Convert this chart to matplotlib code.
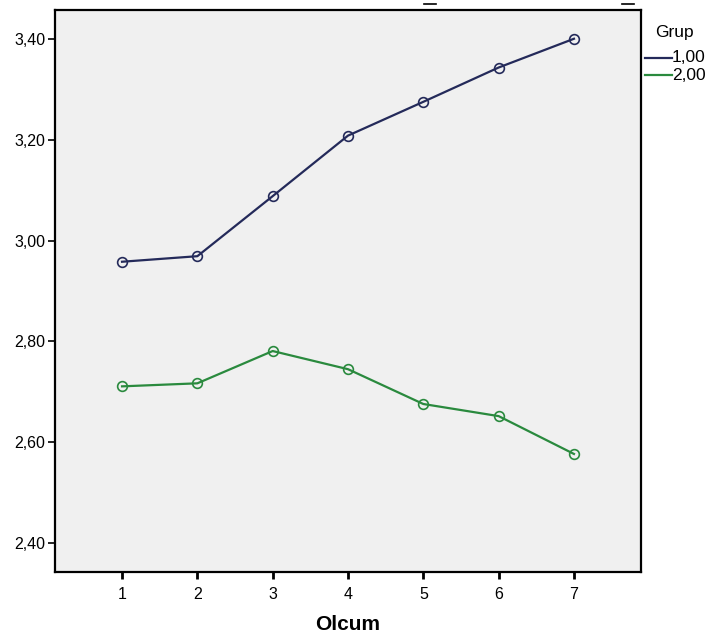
import matplotlib
matplotlib.use("Agg")
import matplotlib.pyplot as plt
from matplotlib.lines import Line2D

plt.rcParams['font.family'] = ['Liberation Sans', 'DejaVu Sans']

olcum = [1, 2, 3, 4, 5, 6, 7]
grup1 = [2.958, 2.969, 3.088, 3.208, 3.275, 3.343, 3.400]
grup2 = [2.711, 2.717, 2.781, 2.745, 2.676, 2.652, 2.577]
series_labels = ["1,00", "2,00"]
yticks = [2.40, 2.60, 2.80, 3.00, 3.20, 3.40]
ytick_labels = ["2,40", "2,60", "2,80", "3,00", "3,20", "3,40"]

c1 = "#242a5a"
c2 = "#2a8a3e"

fig = plt.figure(figsize=(7.07, 6.37), dpi=100)
ax = fig.add_axes([55/707, 1 - 572/637, (641-55)/707, (572-10)/637])
ax.set_facecolor("#f0f0f0")

ax.plot(olcum, grup1, color=c1, lw=1.6, marker='o', ms=7, mfc='none', mec=c1, mew=1.2, label=series_labels[0])
ax.plot(olcum, grup2, color=c2, lw=1.6, marker='o', ms=7, mfc='none', mec=c2, mew=1.2, label=series_labels[1])

ax.set_xlim(0.11, 7.89)
ax.set_ylim(2.343, 3.457)
ax.set_xticks(olcum)
ax.set_xticklabels([str(v) for v in olcum], fontsize=11.5)
ax.set_yticks(yticks)
ax.set_yticklabels(ytick_labels, fontsize=11.5)
ax.tick_params(axis='both', length=5, width=1.2, colors='black')
ax.tick_params(axis='x', width=2, pad=6)
ax.tick_params(axis='y', pad=2)
for s in ax.spines.values():
    s.set_linewidth(1.6)
    s.set_color('black')
ax.set_xlabel("Olcum", fontsize=15, fontweight='bold', labelpad=9)

# legend
fig.text(655/707, 1 - 32/637, "Grup", fontsize=12.5, va='center', ha='left')
for lbl, col, yy in [(series_labels[0], c1, 58), (series_labels[1], c2, 75)]:
    fig.add_artist(Line2D([645/707, 672/707], [1 - yy/637, 1 - yy/637], color=col, lw=1.6))
    fig.text(672/707, 1 - yy/637, lbl, fontsize=12.5, va='center', ha='left')

# small artifacts at top
for x0, x1 in [(424, 436), (622, 634)]:
    fig.add_artist(Line2D([x0/707, x1/707], [1 - 4/637, 1 - 4/637], color='black', lw=1.2))

fig.savefig("out.png", dpi=100)
